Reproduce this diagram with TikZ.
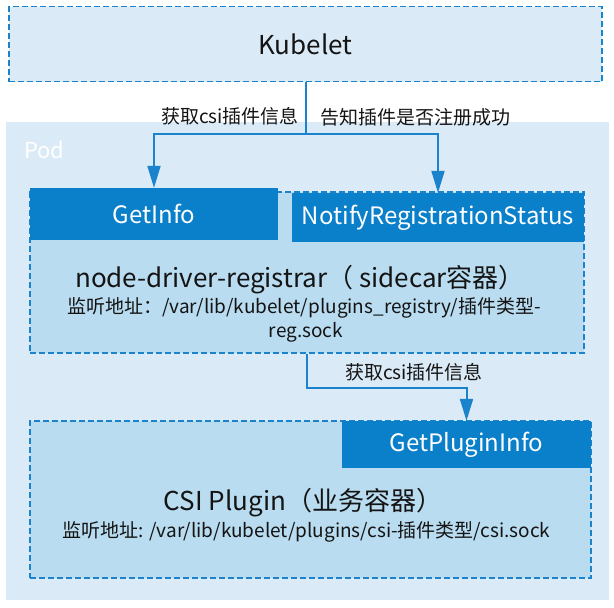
\documentclass[tikz,border=0pt]{standalone}
\usepackage{fontspec}
\setmainfont{Noto Sans CJK SC}
\usetikzlibrary{arrows.meta}
\definecolor{podbg}{HTML}{DAEAF7}
\definecolor{boxbg}{HTML}{B9DCF0}
\definecolor{dblue}{HTML}{0A7FCA}
\definecolor{dline}{HTML}{1B82CC}
\definecolor{txt}{HTML}{141414}
\tikzset{
  dashbox/.style={draw=dline, line width=1.5pt, dash pattern=on 6pt off 3pt, rectangle, inner sep=0pt},
  solidbox/.style={fill=dblue, rectangle, inner sep=0pt, text=white, font=\fontsize{24}{28}\selectfont},
  lbl/.style={text=txt, inner sep=0pt, font=\fontsize{19}{22}\selectfont},
  big/.style={text=txt, inner sep=0pt, font=\fontsize{26}{30}\selectfont},
  addr/.style={text=txt, inner sep=0pt, font=\fontsize{19}{22}\selectfont},
  arr/.style={draw=dline, line width=2pt, -{Triangle[length=22pt,width=13pt]}},
  conn/.style={draw=dline, line width=2pt}
}
\begin{document}
\begin{tikzpicture}[x=1pt,y=-1pt]
\useasboundingbox (0,0) rectangle (614,608);
\fill[white] (0,0) rectangle (614,608);
% Pod
\node[rectangle, fill=podbg, inner sep=0pt, minimum width=603pt, minimum height=478pt] (pod) at (307.5,361) {};
\node[anchor=west, text=white, inner sep=0pt, font=\fontsize{22}{26}\selectfont] (podlbl) at (24,150) {Pod};
% Kubelet
\node[dashbox, fill=podbg, minimum width=593pt, minimum height=75pt, font=\fontsize{26}{30}\selectfont, text=txt] (kub) at (305.5,44) {Kubelet};
% node-driver-registrar
\node[dashbox, fill=boxbg, minimum width=554pt, minimum height=161pt] (ndr) at (307,272.5) {};
\node[solidbox, minimum width=248pt, minimum height=52pt] (getinfo) at (154,214) {GetInfo};
\node[solidbox, minimum width=292pt, minimum height=49pt] (notify) at (438,217.5) {NotifyRegistrationStatus};
\node[big] (ndrt) at (300,280) {node-driver-registrar（ sidecar容器）};
\node[addr] (ndra) at (304,308) {监听地址：/var/lib/kubelet/plugins\_registry/插件类型-};
\node[addr] (ndrb) at (306,332) {reg.sock};
% CSI plugin
\node[dashbox, fill=boxbg, minimum width=561pt, minimum height=157pt] (csi) at (310.5,499.5) {};
\node[solidbox, minimum width=249pt, minimum height=47pt] (gpi) at (466.5,444.5) {GetPluginInfo};
\node[big] (csit) at (303,503) {CSI Plugin（业务容器）};
\node[addr] (csia) at (306.5,532) {监听地址: /var/lib/kubelet/plugins/csi-插件类型/csi.sock};
% connectors
\coordinate (j) at (kub.south |- 0,134);
\draw[conn] (kub.south) -- (j);
\draw[arr] (j) -| (getinfo.north);
\draw[arr] (j) -| (notify.north);
\draw[arr] (ndr.south) -- ++(0,34) -| (gpi.north);
% labels
\node[lbl] (l1) at (230,116) {获取csi插件信息};
\node[lbl] (l2) at (415,117) {告知插件是否注册成功};
\node[lbl] (l3) at (414,372) {获取csi插件信息};
\end{tikzpicture}
\end{document}
